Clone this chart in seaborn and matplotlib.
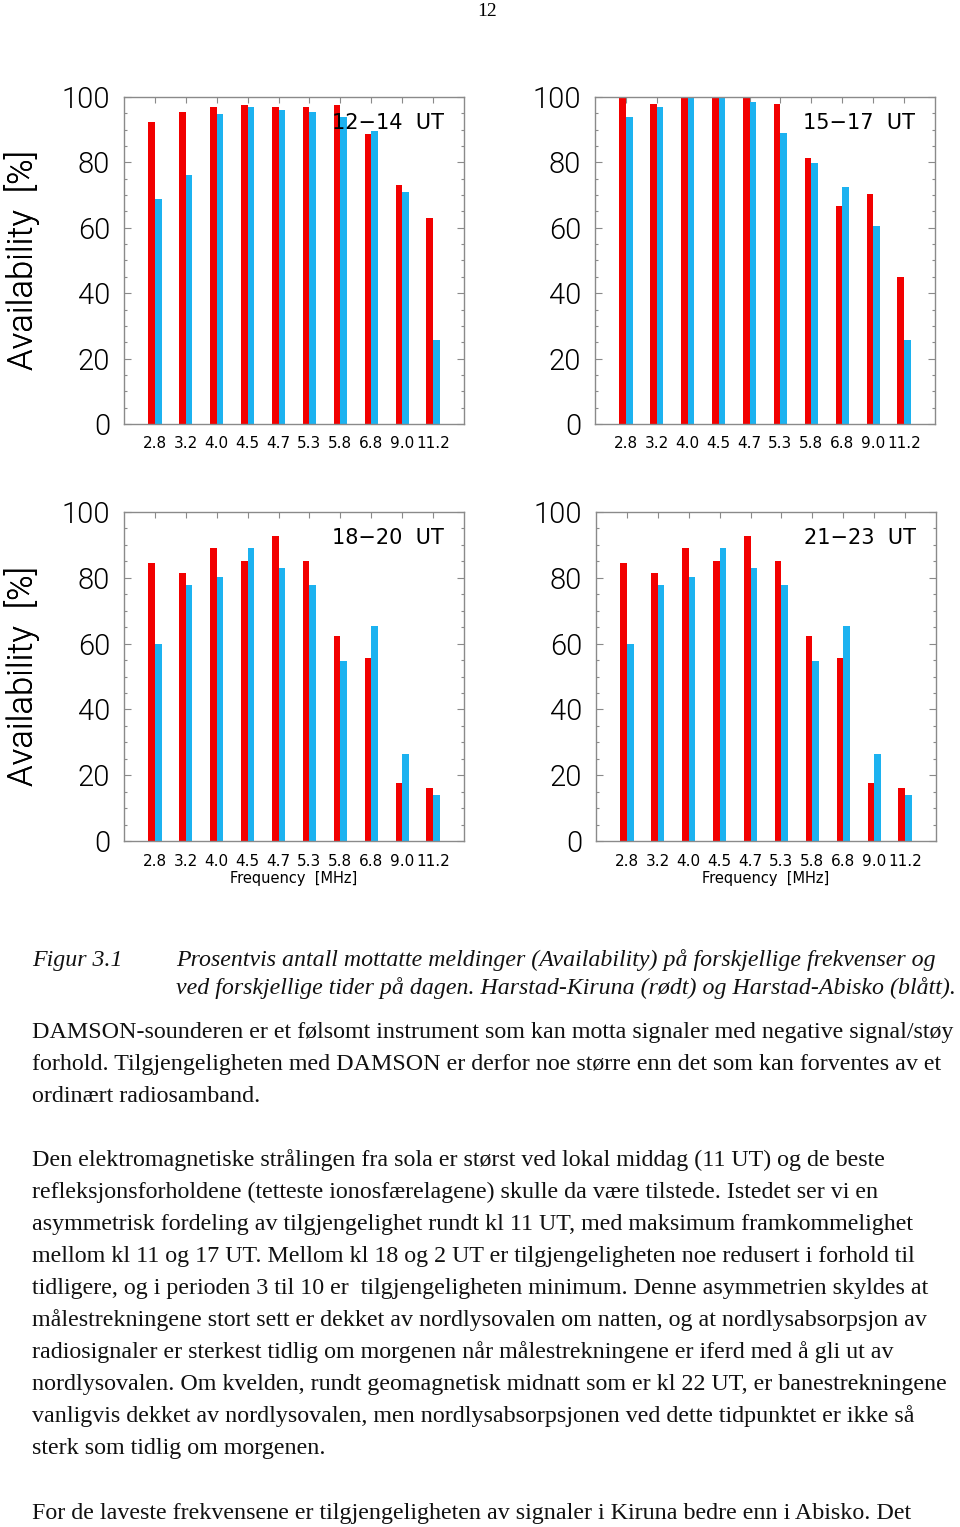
import numpy as np
import pandas as pd
import seaborn as sns
import matplotlib
matplotlib.use("Agg")
import matplotlib.pyplot as plt
from matplotlib.ticker import MultipleLocator

# ---------------- data ----------------
freqs = ["2.8", "3.2", "4.0", "4.5", "4.7", "5.3", "5.8", "6.8", "9.0", "11.2"]
paths = ["Harstad-Kiruna", "Harstad-Abisko"]

kiruna_12_14 = [92.5, 95.4, 97.0, 97.7, 97.0, 97.0, 97.7, 88.8, 73.2, 62.9]
abisko_12_14 = [68.8, 76.1, 94.7, 97.0, 96.1, 95.4, 94.0, 89.5, 71.0, 25.8]

kiruna_15_17 = [100.0, 97.9, 100.0, 100.0, 100.0, 97.9, 81.4, 66.6, 70.3, 45.1]
abisko_15_17 = [94.0, 96.9, 100.0, 100.0, 98.5, 88.9, 79.9, 72.6, 60.7, 25.8]

kiruna_18_20 = [84.5, 81.6, 89.0, 85.2, 92.7, 85.2, 62.2, 55.5, 17.6, 16.1]
abisko_18_20 = [59.9, 77.9, 80.1, 89.0, 83.0, 77.9, 54.8, 65.2, 26.5, 13.9]

kiruna_21_23 = [84.5, 81.6, 89.0, 85.2, 92.7, 85.2, 62.2, 55.5, 17.6, 16.1]
abisko_21_23 = [59.9, 77.9, 80.1, 89.0, 83.0, 77.9, 54.8, 65.2, 26.5, 13.9]

panel_titles = ["12\u221214  UT", "15\u221217  UT", "18\u221220  UT", "21\u221223  UT"]
panel_data = [(kiruna_12_14, abisko_12_14), (kiruna_15_17, abisko_15_17),
              (kiruna_18_20, abisko_18_20), (kiruna_21_23, abisko_21_23)]

ylabel_text = "Availability  [%]"
xlabel_text = "Frequency  [MHz]"
page_number = "12"

caption_label = "Figur 3.1"
caption_lines = [
    "Prosentvis antall mottatte meldinger (Availability) på forskjellige frekvenser og",
    "ved forskjellige tider på dagen. Harstad-Kiruna (rødt) og Harstad-Abisko (blått).",
]
para1 = [
    "DAMSON-sounderen er et følsomt instrument som kan motta signaler med negative signal/støy",
    "forhold. Tilgjengeligheten med DAMSON er derfor noe større enn det som kan forventes av et",
    "ordinært radiosamband.",
]
para2 = [
    "Den elektromagnetiske strålingen fra sola er størst ved lokal middag (11 UT) og de beste",
    "refleksjonsforholdene (tetteste ionosfærelagene) skulle da være tilstede. Istedet ser vi en",
    "asymmetrisk fordeling av tilgjengelighet rundt kl 11 UT, med maksimum framkommelighet",
    "mellom kl 11 og 17 UT. Mellom kl 18 og 2 UT er tilgjengeligheten noe redusert i forhold til",
    "tidligere, og i perioden 3 til 10 er  tilgjengeligheten minimum. Denne asymmetrien skyldes at",
    "målestrekningene stort sett er dekket av nordlysovalen om natten, og at nordlysabsorpsjon av",
    "radiosignaler er sterkest tidlig om morgenen når målestrekningene er iferd med å gli ut av",
    "nordlysovalen. Om kvelden, rundt geomagnetisk midnatt som er kl 22 UT, er banestrekningene",
    "vanligvis dekket av nordlysovalen, men nordlysabsorpsjonen ved dette tidpunktet er ikke så",
    "sterk som tidlig om morgenen.",
]
para3 = [
    "For de laveste frekvensene er tilgjengeligheten av signaler i Kiruna bedre enn i Abisko. Det",
]

# ---------------- style ----------------
sns.set_theme(style="white")
plt.rcParams["font.family"] = ["DejaVu Sans"]
plt.rcParams["text.color"] = "black"
plt.rcParams["xtick.color"] = "black"
plt.rcParams["ytick.color"] = "black"
RED = "#F20000"
BLUE = "#1CB2F0"
GRAY = "#8a8a8a"
INK = "#000000"

W, H = 960, 1527
fig = plt.figure(figsize=(W / 100, H / 100), dpi=100)
fig.patch.set_facecolor("white")
renderer = fig.canvas.get_renderer()

def px_axes(x0, y0, x1, y1):
    return fig.add_axes([x0 / W, 1 - y1 / H, (x1 - x0) / W, (y1 - y0) / H])

boxes = [(124, 97, 464, 424), (595, 97, 935, 424),
         (124, 512, 464, 841), (596, 512, 936, 841)]

thin_family = ["Roboto", "DejaVu Sans"]
THIN = 300

# size the y label so its length matches the reference (~220 px)
_t = fig.text(0, 0, ylabel_text, fontsize=20, family=thin_family, weight=THIN)
ylab_size = 20 * 220 / _t.get_window_extent(renderer).width
_t.remove()

for i, (box, (k, a), title) in enumerate(zip(boxes, panel_data, panel_titles)):
    ax = px_axes(*box)
    df = pd.DataFrame({
        "freq": freqs * 2,
        "avail": list(k) + list(a),
        "path": [paths[0]] * len(freqs) + [paths[1]] * len(freqs),
    })
    sns.barplot(data=df, x="freq", y="avail", hue="path", order=freqs,
                hue_order=paths, palette=[RED, BLUE], width=0.43, gap=0,
                saturation=1, linewidth=0, legend=False, ax=ax, errorbar=None)
    ax.set_xlim(-1, len(freqs))
    ax.set_ylim(0, 100)
    ax.yaxis.set_major_locator(MultipleLocator(20))
    ax.yaxis.set_minor_locator(MultipleLocator(5))
    ax.set_xlabel("")
    ax.set_ylabel("")
    for s in ax.spines.values():
        s.set_color(GRAY)
        s.set_linewidth(1.0)
        s.set_visible(True)
    ax.tick_params(axis="y", which="major", direction="in", length=5, width=0.8,
                   color=GRAY, left=True, right=True, labelsize=21, pad=10,
                   labelcolor=INK)
    ax.tick_params(axis="y", which="minor", direction="in", length=2.5, width=0.8,
                   color=GRAY, left=True, right=True)
    ax.tick_params(axis="x", which="major", direction="in", length=4, width=0.8,
                   color=GRAY, top=True, bottom=True, labelsize=11, pad=9,
                   labelcolor=INK)
    ylabs = ax.get_yticklabels()
    for lab in ylabs:
        lab.set_fontfamily(thin_family)
        lab.set_fontweight(THIN)
    ylabs[0].set_verticalalignment("bottom")
    ylabs[-1].set_verticalalignment("top")
    ax.text(0.94, 0.92, title, transform=ax.transAxes, ha="right", va="center",
            fontsize=15, color=INK)
    cy = (box[1] + box[3]) / 2
    fig.text(22 / W, 1 - cy / H, ylabel_text, rotation=90, ha="center", va="center",
             fontsize=ylab_size, color=INK, family=thin_family, weight=THIN)
    if i >= 2:
        cx = (box[0] + box[2]) / 2
        fig.text(cx / W, 1 - 879 / H, xlabel_text, ha="center", va="center",
                 fontsize=10.5, color=INK)

# ---------------- page text ----------------
fig.text(487 / W, 1 - 12 / H, page_number, ha="center", va="center",
         fontsize=14, family="Liberation Serif", color=INK)

def fit_size(text, target_px, style="normal"):
    t = fig.text(0, 0, text, fontsize=20, family="Liberation Serif", style=style)
    w = t.get_window_extent(renderer).width
    t.remove()
    return 20 * target_px / w

body_size = fit_size(para1[0], 923)
cap_size = fit_size(caption_lines[1], 778, style="italic")

def put(x, yc, text, size, style="normal"):
    fig.text(x / W, 1 - (yc + 6) / H, text, ha="left", va="baseline",
             fontsize=size, family="Liberation Serif", style=style, color="#111111")

put(32, 960, caption_label, cap_size, "italic")
for j, line in enumerate(caption_lines):
    put(176, 960 + 28 * j, line, cap_size, "italic")
for j, line in enumerate(para1):
    put(32, 1032 + 32 * j, line, body_size)
for j, line in enumerate(para2):
    put(32, 1160 + 32 * j, line, body_size)
for j, line in enumerate(para3):
    put(32, 1513 + 32 * j, line, body_size)

fig.savefig("out.png", dpi=100, facecolor="white")
